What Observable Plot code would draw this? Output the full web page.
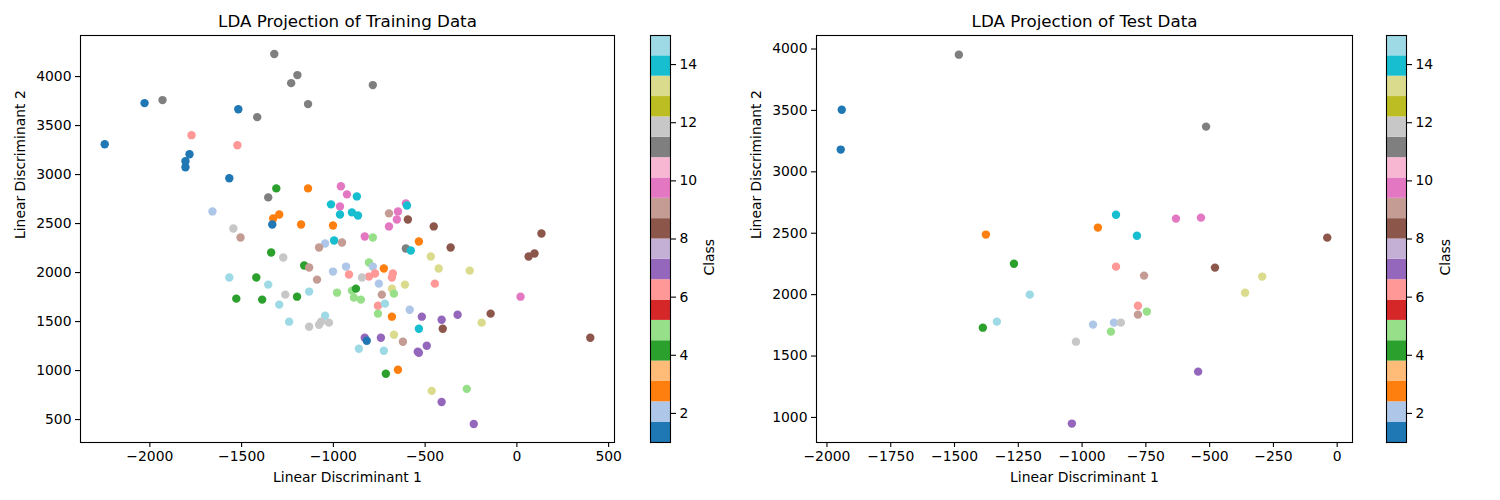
<!DOCTYPE html>
<html><head><meta charset="utf-8">
<script src="https://cdn.jsdelivr.net/npm/d3@7"></script>
<script src="https://cdn.jsdelivr.net/npm/@observablehq/plot@0.6"></script>
<style>
body{margin:0;background:#fff;}
#fig{position:relative;width:1500px;height:500px;background:#fff;}
#fig svg{position:absolute;top:0;}
</style></head><body><div id="fig"></div>
<script>
// ---- Training data (LDA projection) ----
const trainX = [-1322,-1196,-1230,-2029,-1931,-1518,-1415,-1773,-1523,-2246,-1784,-1806,-1806,-1567,-1311,-1355,-1659,-1295,-1328,-1333,-1176,-1545,-1506,
  -785,-1138,-1138,-959,-926,-872,-1013,-964,-964,-899,-866,-697,-648,-605,-599,-654,-594,-697,-1002,-829,-785,-534,-1045,-996,-953,-1078,-605,-578,
  -1159,-1132,-1002,-931,-806,-785,-725,-915,-806,-773,-844,-676,-681,-1089,-752,-610,-681,-1198,-1132,-980,-899,-877,-888,-850,
  -670,-736,-757,-719,-757,-681,-584,-1045,-1132,-1078,-1067,-1024,-829,-818,-741,-670,-621,-861,-725,-540,-534,-714,-648,
  -1339,-1273,-1567,-1420,-1355,-1262,-1529,-1388,-1295,-1241,
  -453,-361,-469,-426,-257,-447,134,96,64,400,20,-518,-410,-323,-143,-192,-404,-491,-534,-464,-273,-410,-235];
const trainY = [4230,4015,3933,3729,3760,3667,3586,3402,3299,3309,3207,3136,3074,2962,2859,2767,2624,2593,2552,2491,2491,2450,2358,
  3913,3719,2859,2880,2798,2777,2696,2675,2593,2614,2583,2604,2624,2706,2685,2542,2542,2471,2481,2368,2358,2317,2297,2327,2307,2256,2246,2225,
  2072,2051,2010,2061,2102,2061,2041,1980,1959,1990,1949,1990,1949,1928,1887,1877,1836,1754,1806,1795,1816,1836,1744,1724,
  1785,1775,1662,1683,1581,1550,1621,1560,1448,1468,1499,1489,1335,1304,1335,1366,1294,1223,1202,1192,1427,967,1008,
  2205,2153,1949,1949,1877,1775,1734,1724,1673,1499,
  2471,2256,2164,2041,2020,1887,2399,2194,2164,1335,1754,1550,1519,1570,1581,1489,1427,1253,1182,793,813,680,455];
const trainClass = [11,11,11,1,11,1,11,6,6,1,1,1,1,1,4,11,2,3,3,1,3,12,9,
  11,11,3,10,10,14,14,10,14,14,14,9,10,10,14,10,8,10,3,10,5,3,2,14,9,9,11,14,
  4,9,2,2,5,2,3,6,6,6,12,6,6,9,2,13,13,4,15,5,5,4,5,5,
  5,9,6,15,5,3,2,15,12,12,12,12,7,1,7,13,9,15,15,7,14,4,3,
  4,12,15,4,15,12,4,4,15,15,
  8,8,13,13,13,6,8,8,8,8,10,7,7,7,8,13,8,7,7,13,5,7,7];

// ---- Test data (LDA projection) ----
const testX = [-1483,-1942,-1946,-1377,-1267,-1205,-1334,-1389,-1024,-1040,-514,-867,-938,-785,-632,-534,-39,-867,-479,-757,-294,-361,-781,-746,-781,-957,-875,-848,-887,-545];
const testY = [3954,3506,3181,2489,2252,2000,1780,1731,1617,950,3368,2651,2546,2480,2619,2627,2464,2228,2220,2155,2147,2016,1910,1862,1837,1756,1772,1772,1699,1373];
const testClass = [11,1,1,3,4,15,15,4,12,7,11,14,3,14,10,10,8,6,8,9,13,13,6,5,9,2,2,12,5,7];

// ---- Axis ticks ----
const trainXTicks = [-2000,-1500,-1000,-500,0,500];
const trainYTicks = [500,1000,1500,2000,2500,3000,3500,4000];
const testXTicks = [-2000,-1750,-1500,-1250,-1000,-750,-500,-250,0];
const testYTicks = [1000,1500,2000,2500,3000,3500,4000];
const classTicks = [2,4,6,8,10,12,14];
const classRange = [1,15];

// tab20 colormap
const tab20 = ["#1f77b4","#aec7e8","#ff7f0e","#ffbb78","#2ca02c","#98df8a","#d62728","#ff9896","#9467bd","#c5b0d5",
  "#8c564b","#c49c94","#e377c2","#f7b6d2","#7f7f7f","#c7c7c7","#bcbd22","#dbdb8d","#17becf","#9edae5"];
const span = classRange[1]-classRange[0];
const thresholds = d3.range(1,20).map(k => classRange[0] + span*k/20);
const colorScale = {type:"threshold", domain: thresholds, range: tab20};
const fmt = d => d < 0 ? "\u2212" + Math.abs(d) : String(d);
const font = {fontFamily:"'DejaVu Sans', sans-serif", fontSize:"13.9px", color:"black", background:"transparent", overflow:"visible"};

function scatter({X, Y, C, xDomain, yDomain, xTicks, yTicks, title, left, width, marginRight}) {
  const data = X.map((x,i)=>({x, y:Y[i], c:C[i]}));
  const svg = Plot.plot({
    width, height: 500, marginLeft: 80, marginRight, marginTop: 35, marginBottom: 58,
    style: font,
    x: {domain: xDomain, label: null},
    y: {domain: yDomain, label: null},
    color: colorScale,
    marks: [
      Plot.dot(data, {x:"x", y:"y", fill:"c", r:4.2, stroke:null}),
      Plot.frame({stroke:"black", strokeWidth:1.1}),
      Plot.axisX({ticks: xTicks, tickFormat: fmt, tickSize:5, tickPadding:4, strokeWidth:1.1, label:null}),
      Plot.axisY({ticks: yTicks, tickFormat: fmt, tickSize:5, tickPadding:4, strokeWidth:1.1, label:null}),
      Plot.text([title], {text: d=>d, frameAnchor:"top", lineAnchor:"middle", dy:-14, fontSize:16.7}),
      Plot.text(["Linear Discriminant 1"], {text: d=>d, frameAnchor:"bottom", lineAnchor:"middle", dy:35}),
      Plot.text(["Linear Discriminant 2"], {text: d=>d, frameAnchor:"left", dx:-60, rotate:-90})
    ]
  });
  svg.style.left = left + "px";
  return svg;
}

function colorbar(left) {
  const segs = d3.range(20).map(i => ({y1: classRange[0] + span*i/20, y2: classRange[0] + span*(i+1)/20}));
  const svg = Plot.plot({
    width: 100, height: 500, marginLeft: 10, marginRight: 70, marginTop: 35, marginBottom: 58,
    style: font,
    x: {domain:[0,1], axis:null},
    y: {domain: classRange, label: null},
    color: colorScale,
    marks: [
      Plot.rect(segs, {x1: () => 0, x2: () => 1, y1:"y1", y2:"y2", fill: d => (d.y1+d.y2)/2}),
      Plot.frame({stroke:"black", strokeWidth:1.1}),
      Plot.axisY({anchor:"right", ticks: classTicks, tickSize:5, tickPadding:4, strokeWidth:1.1, label:null}),
      Plot.text(["Class"], {text: d=>d, frameAnchor:"right", dx:39, rotate:-90})
    ]
  });
  svg.style.left = left + "px";
  return svg;
}

const fig = document.getElementById("fig");
fig.appendChild(scatter({X:trainX, Y:trainY, C:trainClass, xDomain:[-2378,532], yDomain:[266,4419],
  xTicks:trainXTicks, yTicks:trainYTicks, title:"LDA Projection of Training Data", left:0, width:640, marginRight:26}));
fig.appendChild(colorbar(640));
fig.appendChild(scatter({X:testX, Y:testY, C:testClass, xDomain:[-2041,60], yDomain:[796,4110],
  xTicks:testXTicks, yTicks:testYTicks, title:"LDA Projection of Test Data", left:736, width:640, marginRight:24}));
fig.appendChild(colorbar(1376));
</script></body></html>
